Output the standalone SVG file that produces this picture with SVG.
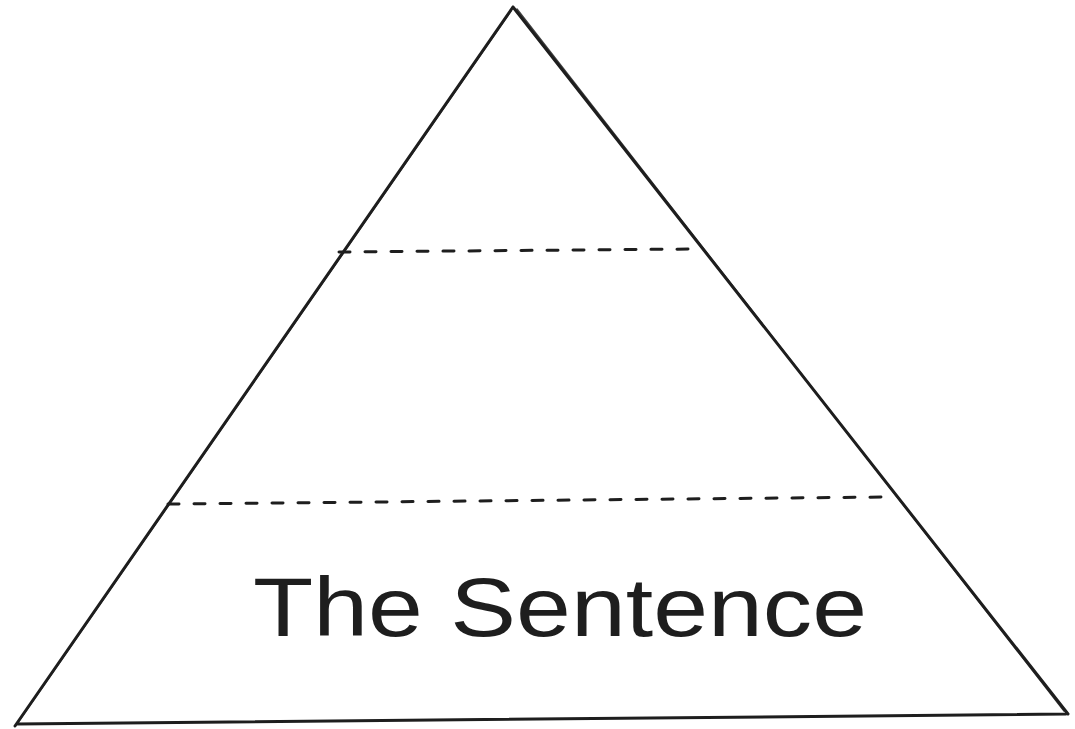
<svg xmlns="http://www.w3.org/2000/svg" width="1075" height="729" viewBox="0 0 1075 729">
  <style>
    .edge { fill: none; stroke: #1e1e1e; stroke-width: 3; stroke-linecap: round; stroke-linejoin: round; }
    .edge2 { fill: none; stroke: #1e1e1e; stroke-width: 1.5; stroke-linecap: round; opacity: 0.85; }
    .dash { fill: none; stroke: #1e1e1e; stroke-width: 3; stroke-dasharray: 11 15; stroke-linecap: round; }
    .label { font-family: "Liberation Sans", "DejaVu Sans", sans-serif; font-size: 84px; fill: #1e1e1e; }
  </style>
  <rect width="1075" height="729" fill="#ffffff"/>
  <g id="pyramid">
    <path class="edge" d="M513 7 L15 726 M17 724 L1066 714 M513 7 L1068 714"/>
    <path class="edge2" d="M511 11 L19 721 M517 9 L1064 711"/>
  </g>
  <g id="dividers">
    <path class="dash" d="M339 252 L695 249"/>
    <path class="dash" d="M168 504 L890 497"/>
  </g>
  <g id="label">
    <text class="label" x="253" y="636" textLength="614" lengthAdjust="spacingAndGlyphs">The Sentence</text>
  </g>
</svg>
